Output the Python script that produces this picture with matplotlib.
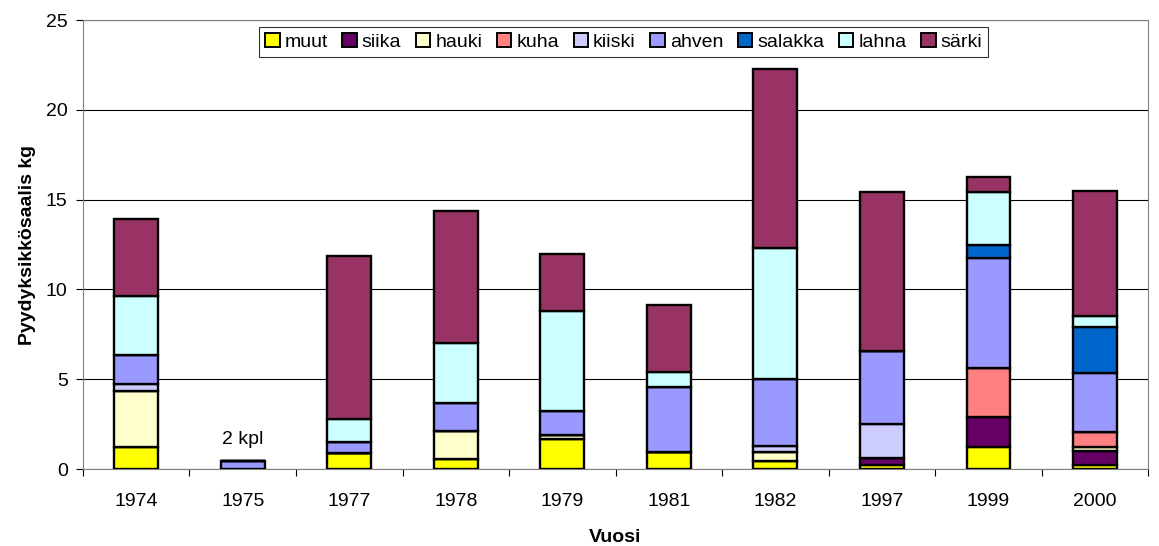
import numpy as np
import matplotlib
matplotlib.use("Agg")
import matplotlib.pyplot as plt

plt.rcParams["font.family"] = ["Liberation Sans", "DejaVu Sans"]

years = ["1974", "1975", "1977", "1978", "1979", "1981", "1982", "1997", "1999", "2000"]
species = ["muut", "siika", "hauki", "kuha", "kiiski", "ahven", "salakka", "lahna", "särki"]
colors = ["#FFFF00", "#660066", "#FFFFCC", "#FF8080", "#CCCCFF",
          "#9999FF", "#0066CC", "#CCFFFF", "#993366"]

# catch per species (kg), bottom to top of each stack
muut    = [1.20, 0.00, 0.90, 0.56, 1.65, 0.96, 0.46, 0.20, 1.24, 0.22]
siika   = [0.00, 0.00, 0.00, 0.00, 0.00, 0.00, 0.00, 0.40, 1.64, 0.76]
hauki   = [3.15, 0.00, 0.00, 1.57, 0.22, 0.00, 0.47, 0.00, 0.00, 0.22]
kuha    = [0.00, 0.00, 0.00, 0.00, 0.00, 0.00, 0.00, 0.00, 2.74, 0.88]
kiiski  = [0.40, 0.00, 0.00, 0.00, 0.00, 0.00, 0.33, 1.93, 0.00, 0.00]
ahven   = [1.60, 0.45, 0.60, 1.56, 1.36, 3.59, 3.75, 4.03, 6.16, 3.28]
salakka = [0.00, 0.00, 0.00, 0.00, 0.00, 0.00, 0.00, 0.00, 0.69, 2.56]
lahna   = [3.30, 0.00, 1.30, 3.33, 5.59, 0.83, 7.28, 0.00, 2.97, 0.62]
sarki   = [4.30, 0.00, 9.09, 7.35, 3.15, 3.75, 9.98, 8.87, 0.80, 6.94]

series = [muut, siika, hauki, kuha, kiiski, ahven, salakka, lahna, sarki]

fig = plt.figure(figsize=(11.59, 5.46), dpi=100)
ax = fig.add_axes([0.0716, 0.141, 0.919, 0.822])

x = np.arange(len(years))
bottom = np.zeros(len(years))
for name, vals, col in zip(species, series, colors):
    vals = np.array(vals)
    ax.bar(x, vals, width=0.41, bottom=bottom, color=col, edgecolor="black",
           linewidth=1.7, label=name, zorder=3)
    bottom += vals

ax.annotate("2 kpl", xy=(1, bottom[1]), xytext=(0, 9), textcoords="offset points",
            ha="center", va="bottom", fontsize=14)

ax.set_xlim(-0.5, len(years) - 0.5)
ax.set_ylim(0, 25)
ax.set_yticks(range(0, 26, 5))
ax.set_xticks(x)
ax.set_xticklabels(years, fontsize=14)
ax.tick_params(axis="y", labelsize=14, length=5, width=0.8, pad=6)
ax.tick_params(axis="x", length=0, pad=17)
# category separators below the axis
ax.set_xticks(np.arange(-0.5, len(years)), minor=True)
ax.tick_params(axis="x", which="minor", length=5, width=0.8, direction="out")
ax.grid(axis="y", color="black", linewidth=0.8, zorder=0)

for side in ["top", "right", "left", "bottom"]:
    ax.spines[side].set_color("#808080")

ax.set_xlabel("Vuosi", fontsize=14, fontweight="bold", labelpad=14)
ax.set_ylabel("Pyydyksikkösaalis kg", fontsize=14, fontweight="bold", labelpad=7)

leg = ax.legend(loc="upper center", bbox_to_anchor=(0.5075, 0.984), ncol=9,
                fontsize=14, frameon=True, fancybox=False, edgecolor="black",
                handlelength=0.75, handleheight=0.75, handletextpad=0.25,
                columnspacing=0.75, borderpad=0.3, borderaxespad=0)
leg.get_frame().set_linewidth(0.8)
for h in leg.legend_handles:
    h.set_linewidth(1.4)

fig.savefig("out.png", dpi=100)
